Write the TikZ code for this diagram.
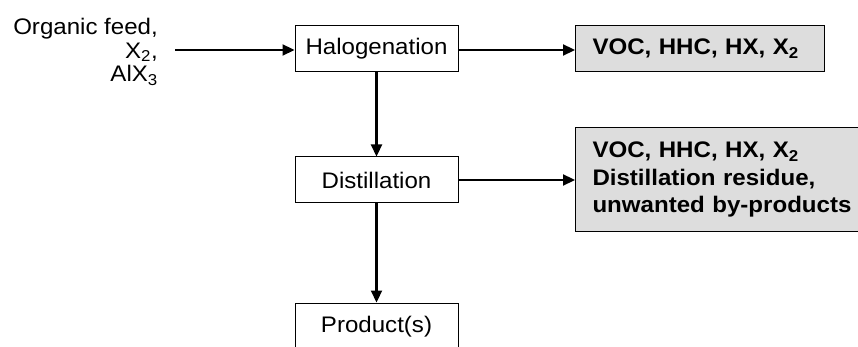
\documentclass[tikz,border=0pt]{standalone}
\usepackage{fontspec}
\setmainfont[FakeStretch=1.07]{Liberation Sans}
\usetikzlibrary{arrows.meta}
\definecolor{boxgray}{RGB}{221,221,221}
\tikzset{
  txt/.style={font=\fontsize{22.5}{22}\selectfont},
  feedtxt/.style={font=\fontsize{22.5}{23.5}\selectfont},
  procbox/.style={txt, draw=black, line width=1pt, minimum width=163pt, minimum height=46pt, inner sep=0pt, fill=white},
  outbox/.style={draw=black, line width=1pt, fill=boxgray, inner xsep=17pt, inner ysep=0pt, align=left,
     font=\fontsize{22.5}{27.5}\selectfont\bfseries},
  flow/.style={line width=2.2pt, -{Triangle[length=12pt,width=11pt]}}
}
\begin{document}
\begin{tikzpicture}[x=1pt,y=-1pt]
\useasboundingbox (0,0) rectangle (858,347);
\clip (0,0) rectangle (858,347);
\node[procbox] (hal) at (376.5,49) {Halogenation};
\node[procbox] (dist) at (376.5,180) {Distillation};
\node[procbox, minimum height=48pt] (prod) at (376.5,327) {Product(s)};
\node[outbox, anchor=west, text width=215pt, minimum height=46pt] (voc1) at (575,49) {VOC, HHC, HX, X\textsubscript{2}};
\node[outbox, anchor=west, text width=266pt, minimum height=103pt] (voc2) at (575,179.5)
  {VOC, HHC, HX, X\textsubscript{2}\\Distillation residue,\\unwanted by-products};
\node[feedtxt, align=right, anchor=east, inner sep=0pt] (feed) at (158,52)
  {Organic feed,\\X\textsubscript{2},\\AlX\textsubscript{3}};
\coordinate (in) at (175,50);
\draw[flow] (in) -- (hal.west |- in);
\draw[flow] (hal.east |- in) -- (voc1.west |- in);
\draw[flow] (hal.south) -- (dist.north);
\draw[flow] (dist.south) -- (prod.north);
\draw[flow] (dist.east) -- (voc2.west |- dist.east);
\end{tikzpicture}
\end{document}
